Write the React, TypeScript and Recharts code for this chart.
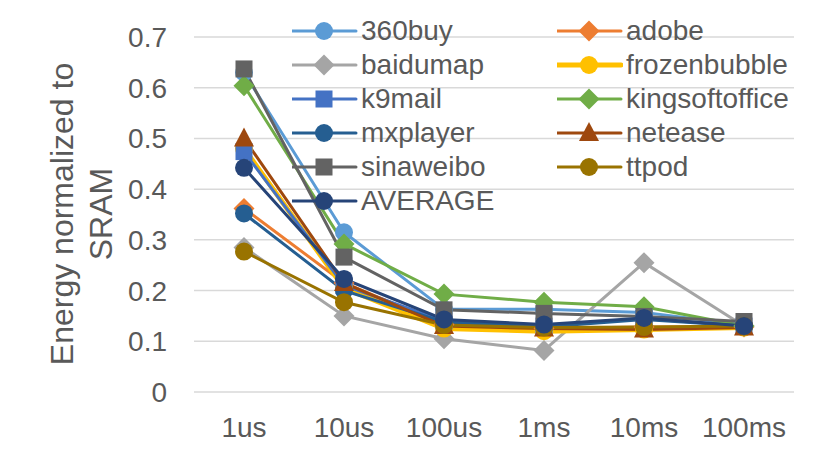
import React from "react";
import {
  LineChart,
  Line,
  XAxis,
  YAxis,
  CartesianGrid,
  Legend,
} from "recharts";

const categories = ["1us", "10us", "100us", "1ms", "10ms", "100ms"];
const yTicks = [0, 0.1, 0.2, 0.3, 0.4, 0.5, 0.6, 0.7];

const buy360 = [0.63, 0.315, 0.163, 0.163, 0.157, 0.132];
const adobe = [0.362, 0.215, 0.133, 0.125, 0.128, 0.128];
const baidumap = [0.285, 0.15, 0.105, 0.082, 0.255, 0.13];
const frozenbubble = [0.48, 0.205, 0.125, 0.12, 0.123, 0.127];
const k9mail = [0.474, 0.21, 0.14, 0.13, 0.145, 0.13];
const kingsoftoffice = [0.604, 0.292, 0.193, 0.177, 0.168, 0.13];
const mxplayer = [0.352, 0.2, 0.138, 0.128, 0.143, 0.13];
const netease = [0.5, 0.215, 0.13, 0.125, 0.123, 0.127];
const sinaweibo = [0.637, 0.266, 0.162, 0.155, 0.149, 0.139];
const ttpod = [0.277, 0.177, 0.132, 0.127, 0.128, 0.13];
const average = [0.442, 0.223, 0.143, 0.133, 0.146, 0.13];

type Shape = "circle" | "diamond" | "square" | "triangle";

const series: { key: string; values: number[]; color: string; shape: Shape; width: number }[] = [
  { key: "360buy", values: buy360, color: "#5B9BD5", shape: "circle", width: 3 },
  { key: "adobe", values: adobe, color: "#ED7D31", shape: "diamond", width: 3 },
  { key: "baidumap", values: baidumap, color: "#A5A5A5", shape: "diamond", width: 3 },
  { key: "frozenbubble", values: frozenbubble, color: "#FFC000", shape: "circle", width: 5 },
  { key: "k9mail", values: k9mail, color: "#4472C4", shape: "square", width: 3 },
  { key: "kingsoftoffice", values: kingsoftoffice, color: "#70AD47", shape: "diamond", width: 3 },
  { key: "mxplayer", values: mxplayer, color: "#255E91", shape: "circle", width: 3 },
  { key: "netease", values: netease, color: "#9E480E", shape: "triangle", width: 3 },
  { key: "sinaweibo", values: sinaweibo, color: "#636363", shape: "square", width: 3 },
  { key: "ttpod", values: ttpod, color: "#997300", shape: "circle", width: 3 },
  { key: "AVERAGE", values: average, color: "#264478", shape: "circle", width: 3 },
];

const data = categories.map((c, i) => {
  const row: Record<string, string | number> = { name: c };
  series.forEach((s) => {
    row[s.key] = s.values[i];
  });
  return row;
});

const FONT = "'Liberation Sans', Arial, sans-serif";
const TEXT = "#595959";

function Marker({ cx, cy, shape, color }: { cx: number; cy: number; shape: Shape; color: string }) {
  if (cx == null || cy == null) return null;
  if (shape === "circle") return <circle cx={cx} cy={cy} r={9} fill={color} />;
  if (shape === "square")
    return <rect x={cx - 8.5} y={cy - 8.5} width={17} height={17} fill={color} />;
  if (shape === "diamond")
    return (
      <polygon
        points={`${cx},${cy - 10.5} ${cx + 10.5},${cy} ${cx},${cy + 10.5} ${cx - 10.5},${cy}`}
        fill={color}
      />
    );
  return (
    <polygon
      points={`${cx},${cy - 11} ${cx + 10},${cy + 8} ${cx - 10},${cy + 8}`}
      fill={color}
    />
  );
}

function LegendBox() {
  const cols = [292, 557];
  return (
    <div style={{ position: "relative", width: 831, height: 220 }}>
      {series.map((s, i) => {
        const col = i % 2;
        const row = Math.floor(i / 2);
        const cy = 31 + row * 34;
        return (
          <div
            key={s.key}
            style={{
              position: "absolute",
              left: cols[col],
              top: cy - 17,
              height: 34,
              display: "flex",
              alignItems: "center",
            }}
          >
            <svg width={66} height={34}>
              <line x1={0} y1={17} x2={64} y2={17} stroke={s.color} strokeWidth={s.width} strokeLinecap="round" />
              <Marker cx={32} cy={17} shape={s.shape} color={s.color} />
            </svg>
            <span
              style={{
                fontFamily: FONT,
                fontSize: 28,
                color: TEXT,
                marginLeft: 3,
                lineHeight: "34px",
                whiteSpace: "nowrap",
              }}
            >
              {s.key}
            </span>
          </div>
        );
      })}
    </div>
  );
}

function YTick({ x, y, payload }: any) {
  return (
    <text x={x} y={y + 10} textAnchor="end" fontFamily={FONT} fontSize={28} fill={TEXT}>
      {payload.value}
    </text>
  );
}

function XTick({ x, y, payload }: any) {
  return (
    <text x={x} y={y + 45} textAnchor="middle" fontFamily={FONT} fontSize={28} fill={TEXT}>
      {payload.value}
    </text>
  );
}

function YTitle() {
  const cy = 214;
  return (
    <g fontFamily={FONT} fontSize={32} fill={TEXT}>
      <text x={73} y={cy} textAnchor="middle" transform={`rotate(-90, 73, ${cy})`}>
        Energy normalized to
      </text>
      <text x={112} y={cy} textAnchor="middle" transform={`rotate(-90, 112, ${cy})`}>
        SRAM
      </text>
    </g>
  );
}

export default function App() {
  return (
    <div style={{ position: "absolute", left: 0, top: 0, width: 831, height: 465, background: "#fff" }}>
      <LineChart width={831} height={465} data={data} margin={{ top: 37, right: 37, bottom: 0, left: 0 }}>
        <CartesianGrid vertical={false} stroke="#D9D9D9" strokeWidth={1.5} />
        <XAxis
          dataKey="name"
          height={73}
          padding={{ left: 50, right: 50 }}
          axisLine={false}
          tickLine={false}
          tickSize={0}
          tickMargin={0}
          tick={<XTick />}
          interval={0}
        />
        <YAxis
          width={194}
          domain={[0, 0.7]}
          ticks={yTicks}
          axisLine={false}
          tickLine={false}
          tickSize={0}
          tickMargin={27}
          tick={<YTick />}
          label={{ content: () => <YTitle /> }}
        />
        <Legend
          layout="horizontal"
          verticalAlign="middle"
          align="center"
          wrapperStyle={{ top: 0, left: 0, width: 831, height: 220 }}
          content={() => <LegendBox />}
        />
        {series.map((s) => (
          <Line
            key={s.key}
            dataKey={s.key}
            stroke={s.color}
            strokeWidth={s.width}
            type="linear"
            isAnimationActive={false}
            activeDot={false}
            dot={(p: any) => (
              <Marker key={`${s.key}-${p.index}`} cx={p.cx} cy={p.cy} shape={s.shape} color={s.color} />
            )}
          />
        ))}
      </LineChart>
    </div>
  );
}
